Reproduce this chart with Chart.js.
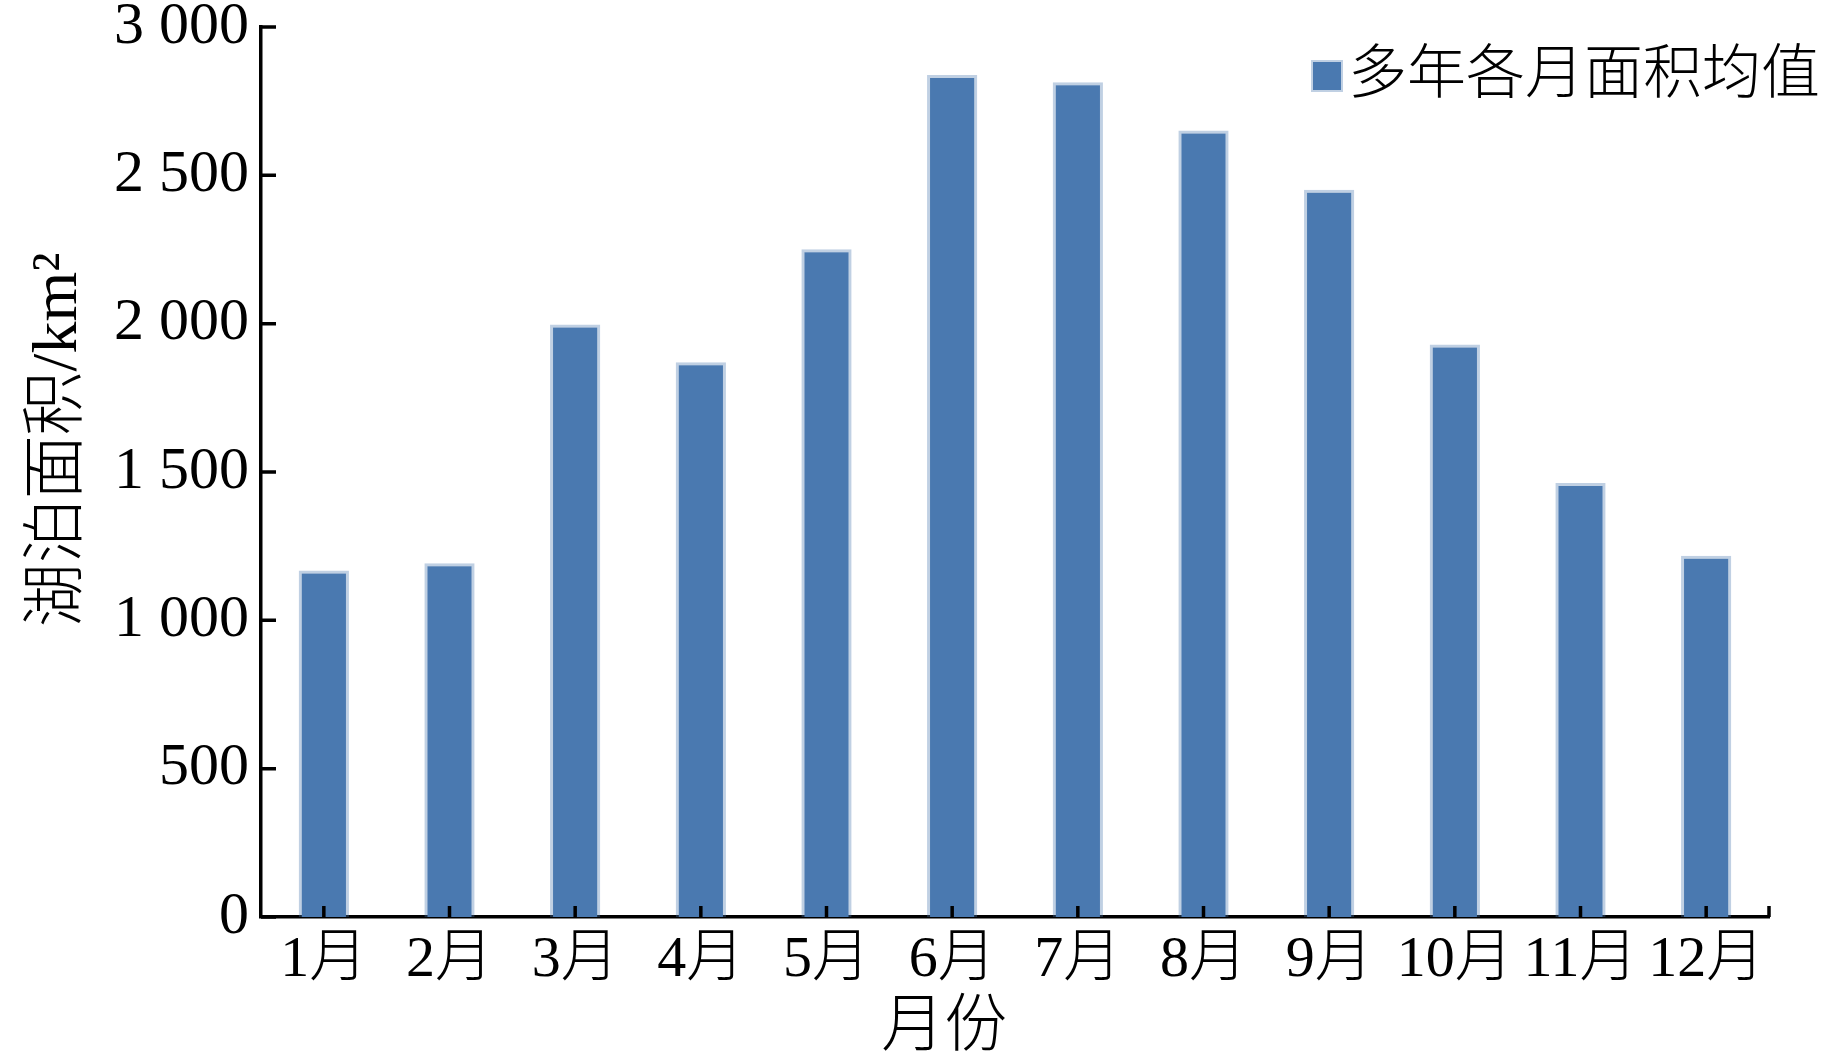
<!DOCTYPE html>
<html>
<head>
<meta charset="utf-8">
<script src="https://cdn.jsdelivr.net/npm/chart.js@4.4.1/dist/chart.umd.min.js"></script>
<style>
html, body { margin: 0; padding: 0; background: #fff; }
</style>
</head>
<body>
<canvas id="areaChart" width="1843" height="1060"></canvas>
<script>
// monthly mean lake area (km2)
let months = ['1月', '2月', '3月', '4月', '5月', '6月', '7月', '8月', '9月', '10月', '11月', '12月'];
let area_mean = [1168, 1192, 1997, 1870, 2251, 2838, 2814, 2651, 2451, 1930, 1463, 1218];
let y_tick_labels = ['0', '500', '1 000', '1 500', '2 000', '2 500', '3 000'];
let series_name = '多年各月面积均值';
// titles sit a bit off centre in the original, padded with spaces
let x_title = '月份\u3000\u3000 ';
let y_title = '    湖泊面积/km²';

let fam = "'Liberation Serif', 'Times New Roman', 'Noto Sans CJK SC', serif";
let barBlue = '#4a79b0';

// legend sits in the top right corner, partly past the end of the x axis
let cornerLegend = {
    id: 'cornerLegend',
    afterDraw(chart) {
        let ctx = chart.ctx;
        let ds = chart.data.datasets[0];
        ctx.save();
        ctx.fillStyle = 'rgba(74,121,176,0.35)';
        ctx.fillRect(1311, 60, 32, 32);
        ctx.fillStyle = ds.backgroundColor;
        ctx.fillRect(1313, 62, 28, 28);
        ctx.font = '300 59px ' + fam;
        ctx.fillStyle = '#000';
        ctx.textBaseline = 'middle';
        ctx.fillText(ds.label, 1348, 77);
        ctx.restore();
    }
};

// tick marks point into the plot, drawn over the bars
let inwardTicks = {
    id: 'inwardTicks',
    afterDatasetsDraw(chart) {
        let ctx = chart.ctx;
        let xs = chart.scales.x;
        let ys = chart.scales.y;
        let area = chart.chartArea;
        ctx.save();
        ctx.strokeStyle = '#000';
        ctx.lineWidth = 3.5;
        ctx.beginPath();
        for (let i = 0; i < ys.ticks.length; i++) {
            let py = ys.getPixelForTick(i);
            ctx.moveTo(area.left, py);
            ctx.lineTo(area.left + 15, py);
        }
        for (let i = 0; i < xs.ticks.length; i++) {
            let px = xs.getPixelForTick(i);
            ctx.moveTo(px, area.bottom);
            ctx.lineTo(px, area.bottom - 11);
        }
        ctx.moveTo(area.right, area.bottom);
        ctx.lineTo(area.right, area.bottom - 11);
        ctx.stroke();
        ctx.restore();
    }
};

let ctx1 = document.getElementById('areaChart');
let areaChart = new Chart(ctx1, {
    type: 'bar',
    data: {
        labels: months,
        datasets: [{
            label: series_name,
            data: area_mean,
            backgroundColor: barBlue,
            borderColor: 'rgba(74,121,176,0.35)',
            borderWidth: 3,
            borderSkipped: 'bottom',
            barPercentage: 0.4,
            categoryPercentage: 1
        }]
    },
    options: {
        responsive: false,
        maintainAspectRatio: false,
        devicePixelRatio: 1,
        animation: false,
        layout: { padding: { left: 0, right: 74, top: 0, bottom: 0 } },
        plugins: {
            legend: { display: false },
            tooltip: { enabled: false }
        },
        scales: {
            x: {
                offset: true,
                grid: { display: false, drawTicks: false },
                border: { color: '#000', width: 3.5 },
                ticks: {
                    color: '#000',
                    padding: 12,
                    maxRotation: 0,
                    autoSkip: false,
                    font: { family: fam, size: 58, weight: '300', lineHeight: 1.1 }
                },
                title: {
                    display: true,
                    text: x_title,
                    color: '#000',
                    font: { family: fam, size: 63, weight: '300', lineHeight: 1.1 },
                    padding: { top: 0, bottom: -3 }
                },
                afterFit(scale) { scale.height = 143; }
            },
            y: {
                min: 0,
                max: 3000,
                grid: { display: false, drawTicks: false },
                border: { color: '#000', width: 3.5 },
                ticks: {
                    stepSize: 500,
                    color: '#000',
                    padding: 12,
                    font: { family: fam, size: 60, lineHeight: 0.5 },
                    callback: function (value, index) { return y_tick_labels[index]; }
                },
                title: {
                    display: true,
                    text: y_title,
                    color: '#000',
                    font: { family: fam, size: 64, weight: '300', lineHeight: 1.1 },
                    padding: { top: 24, bottom: 0 }
                },
                afterFit(scale) { scale.width = 261; }
            }
        }
    },
    plugins: [inwardTicks, cornerLegend]
});
</script>
</body>
</html>
